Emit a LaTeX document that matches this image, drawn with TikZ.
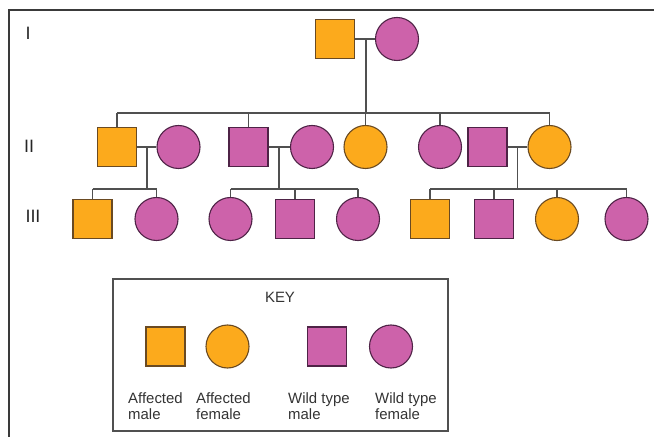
\documentclass[tikz,border=0pt]{standalone}
\usepackage{fontspec}
\setmainfont{Liberation Sans}
\usetikzlibrary{calc}
\definecolor{affc}{HTML}{FCAA1C}
\definecolor{wildc}{HTML}{CD62AA}
\definecolor{affo}{HTML}{6A4A22}
\definecolor{wildo}{HTML}{4E2346}
\definecolor{linec}{HTML}{505050}
\definecolor{framec}{HTML}{3A3A3A}
\tikzset{
  am/.style={rectangle, draw=affo, fill=affc, line width=1.1bp, minimum size=39bp, inner sep=0pt},
  wm/.style={rectangle, draw=wildo, fill=wildc, line width=1.1bp, minimum size=39bp, inner sep=0pt},
  af/.style={circle, draw=affo, fill=affc, line width=1.1bp, minimum size=43bp, inner sep=0pt},
  wf/.style={circle, draw=wildo, fill=wildc, line width=1.1bp, minimum size=43bp, inner sep=0pt},
  link/.style={draw=linec, line width=1.4bp},
  gen/.style={font=\fontsize{18}{18}\selectfont, text=black!85},
  keytxt/.style={font=\fontsize{15}{16.5}\selectfont, align=left, anchor=west, inner sep=0pt, text=black!80}
}
\begin{document}
\begin{tikzpicture}[x=1bp,y=-1bp]
\useasboundingbox (0,0) rectangle (654,437);
% frame
\draw[framec, line width=1.6bp] (654,10) -- (9,10) -- (9,437);
% generation labels
\node[gen] (gI) at (28,33) {I};
\node[gen] (gII) at (29,146) {II};
\node[gen] (gIII) at (33,216) {III};
% generation I
\node[am] (p1) at (335,39) {};
\node[wf] (p2) at (397,39) {};
\coordinate (m1) at (366,39);
\coordinate (s1) at (366,113);
% generation II
\node[am] (a1) at (117,147) {};
\node[wf] (a2) at (178.5,147) {};
\node[wm] (a3) at (248.5,147) {};
\node[wf] (a4) at (312,147) {};
\node[af] (a5) at (365.5,147) {};
\node[wf] (a6) at (440,147) {};
\node[wm] (a7) at (487.5,147) {};
\node[af] (a8) at (549.5,147) {};
% generation III
\node[am] (b1) at (92.5,219) {};
\node[wf] (b2) at (156.5,219) {};
\node[wf] (b3) at (230.5,219) {};
\node[wm] (b4) at (295,219) {};
\node[wf] (b5) at (358,219) {};
\node[am] (b6) at (430,219) {};
\node[wm] (b7) at (494,219) {};
\node[af] (b8) at (557,219) {};
\node[wf] (b9) at (626.5,219) {};
% couple lines and drops
\coordinate (m2) at (147,147);
\coordinate (m3) at (279,147);
\coordinate (m4) at (517.5,147);
\coordinate (s2) at (147,189);
\coordinate (s3) at (279,189);
\coordinate (s4) at (517.5,189);
\begin{scope}[link]
\draw (p1.east) -- (p2.west);
\draw (m1) -- (s1);
\draw (a1.north |- s1) -- (a8.north |- s1);
\foreach \n in {a1,a3,a5,a6,a8} \draw (\n.north |- s1) -- (\n.north);
\draw (a1.east) -- (a2.west);
\draw (a3.east) -- (a4.west);
\draw (a7.east) -- (a8.west);
\draw (m2) -- (s2);
\draw (m3) -- (s3);
\draw (m4) -- (s4);
\draw (b1.north |- s2) -- (b2.north |- s2);
\draw (b3.north |- s3) -- (b5.north |- s3);
\draw (b6.north |- s4) -- (b9.north |- s4);
\foreach \n in {b1,b2} \draw (\n.north |- s2) -- (\n.north);
\foreach \n in {b3,b4,b5} \draw (\n.north |- s3) -- (\n.north);
\foreach \n in {b6,b7,b8,b9} \draw (\n.north |- s4) -- (\n.north);
\end{scope}
% key
\draw[linec, line width=1.1bp] (113,279) rectangle (448,431);
\node[font=\fontsize{15}{16.5}\selectfont, text=black!80] (key) at (280,297) {KEY};
\node[am] (k1) at (165.5,346.5) {};
\node[af] (k2) at (227.5,346.5) {};
\node[wm] (k3) at (327,346.5) {};
\node[wf] (k4) at (391,346.5) {};
\node[keytxt] (t1) at (128,406) {Affected\\male};
\node[keytxt] (t2) at (196,406) {Affected\\female};
\node[keytxt] (t3) at (288,406) {Wild type\\male};
\node[keytxt] (t4) at (375,406) {Wild type\\female};
\end{tikzpicture}
\end{document}
